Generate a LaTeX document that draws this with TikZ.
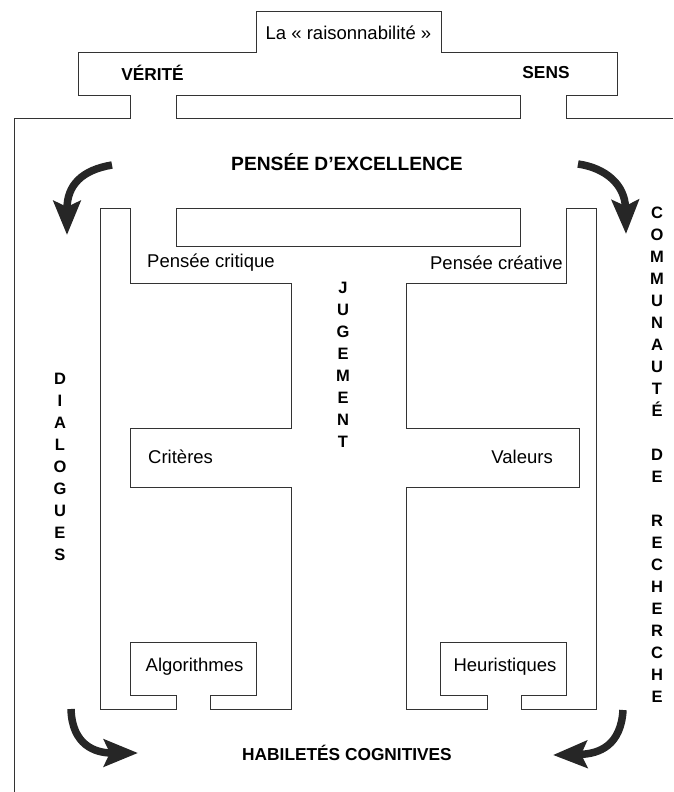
\documentclass[tikz,border=0pt]{standalone}
\usepackage{fontspec}
\setmainfont{Liberation Sans}
\usetikzlibrary{arrows.meta}
\begin{document}
\begin{tikzpicture}[x=1pt,y=-1pt,
  wall/.style={draw=black!80,line width=0.9pt,line join=miter},
  lbl/.style={font=\fontsize{18.5}{20}\selectfont,inner sep=0pt},
  heading/.style={font=\bfseries\fontsize{17.3}{20}\selectfont,inner sep=0pt},
  vert/.style={font=\bfseries\fontsize{16.5}{22}\selectfont,align=center,inner sep=0pt,anchor=north},
  bigarrow/.style={line width=7.5pt,draw=black!85,-{Stealth[length=34pt,width=27pt,inset=6pt]}}]
\useasboundingbox (0,0) rectangle (673,792);

% upper frame
\draw[wall] (14,792) -- (14,118) -- (130,118) -- (130,95) -- (78,95) -- (78,52) -- (256,52) -- (256,11) -- (441,11) -- (441,52) -- (617,52) -- (617,95) -- (566,95) -- (566,118) -- (673,118);
\draw[wall] (176,95) rectangle (520,118);
\draw[wall] (176,208) rectangle (520,246);

% left column
\draw[wall] (100,709) -- (100,208) -- (130,208) -- (130,283) -- (291,283) -- (291,428) -- (130,428) -- (130,487) -- (291,487) -- (291,709) -- (210,709) -- (210,695) -- (256,695) -- (256,642) -- (130,642) -- (130,695) -- (176,695) -- (176,709) -- cycle;

% right column
\draw[wall] (596,709) -- (596,208) -- (566,208) -- (566,283) -- (406,283) -- (406,428) -- (579,428) -- (579,487) -- (406,487) -- (406,709) -- (487,709) -- (487,695) -- (440,695) -- (440,642) -- (566,642) -- (566,695) -- (521,695) -- (521,709) -- cycle;

% texts
\node[lbl] (rais) at (348.5,33) {La « raisonnabilité »};
\node[heading] (verite) at (152.5,73) {VÉRITÉ};
\node[heading] (sens) at (546,73) {SENS};
\node[heading,font=\bfseries\fontsize{19.2}{22}\selectfont] (excellence) at (347,162) {PENSÉE D’EXCELLENCE};
\node[lbl,anchor=west] (critique) at (147,263) {Pensée critique};
\node[lbl,anchor=east] (creative) at (563,263) {Pensée créative};
\node[lbl,anchor=west] (criteres) at (148,457) {Critères};
\node[lbl,anchor=east] (valeurs) at (553,457) {Valeurs};
\node[lbl] (algo) at (194.5,667) {Algorithmes};
\node[lbl] (heur) at (505,667) {Heuristiques};
\node[heading] (habiletes) at (347,753) {HABILETÉS COGNITIVES};

\node[vert] (jugement) at (343,282) {J\\U\\G\\E\\M\\E\\N\\T};
\node[vert] (dialogues) at (60,373) {D\\I\\A\\L\\O\\G\\U\\E\\S};
\node[vert] (communaute) at (657,207) {C\\O\\M\\M\\U\\N\\A\\U\\T\\É\\[22pt]D\\E\\[22pt]R\\E\\C\\H\\E\\R\\C\\H\\E};

% arrows
\draw[bigarrow] (112,165) .. controls (82,170) and (67,185) .. (67,235);
\draw[bigarrow] (578,164) .. controls (606,168) and (625,185) .. (626,234);
\draw[bigarrow] (71,709) .. controls (72,745) and (95,753) .. (138,753);
\draw[bigarrow] (623,710) .. controls (621,745) and (600,754) .. (553,755);
\end{tikzpicture}
\end{document}
